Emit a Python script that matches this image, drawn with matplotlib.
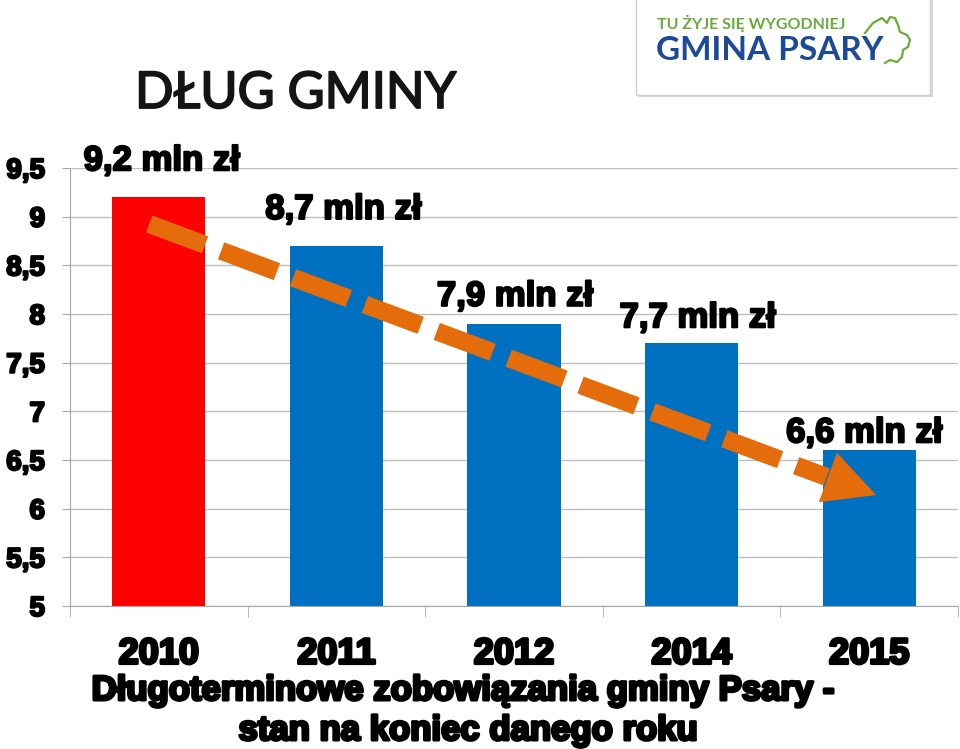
import numpy as np
import matplotlib
matplotlib.use("Agg")
import matplotlib.pyplot as plt
import matplotlib.patheffects as pe
from matplotlib.patches import Rectangle
from matplotlib.lines import Line2D

# data
years = ["2010", "2011", "2012", "2014", "2015"]
debt = [9.2, 8.7, 7.9, 7.7, 6.6]
labels = ["9,2 mln zł", "8,7 mln zł", "7,9 mln zł", "7,7 mln zł", "6,6 mln zł"]
bar_colors = ["#FF0000", "#0070C0", "#0070C0", "#0070C0", "#0070C0"]
yticks = [5, 5.5, 6, 6.5, 7, 7.5, 8, 8.5, 9, 9.5]
ytick_labels = ["5", "5,5", "6", "6,5", "7", "7,5", "8", "8,5", "9", "9,5"]

# label offsets in pixels (dx, dy of baseline above bar top)
label_dx = [3, 7, 1, 6, -5]
label_dy = [27, 27, 18, 16, 8]

# trend arrow (data coords)
trend_start = (-0.054, 8.925)
trend_base = (3.761, 6.325)
trend_tip = (4.039, 6.14)

orange = "#E46C0A"
grid_c = "#BFBFBF"
axis_c = "#A6A6A6"

plt.rcParams["font.family"] = ["Liberation Sans", "DejaVu Sans"]

W, H = 960, 749
fig = plt.figure(figsize=(W / 100, H / 100), dpi=100)


def px(x, y):
    return x / W, 1 - y / H


ax = fig.add_axes([70 / W, 1 - 606 / H, 888 / W, 438 / H])
x = np.arange(len(years))
ax.bar(x, debt, width=0.524, color=bar_colors, zorder=2)
ax.set_xlim(-0.5, 4.5)
ax.set_ylim(5, 9.5)

stroke = [pe.withStroke(linewidth=1.6, foreground="black")]
stroke_big = [pe.withStroke(linewidth=2.2, foreground="black")]

ax.set_yticks(yticks)
ax.set_yticklabels(ytick_labels, fontsize=20, fontweight="bold", path_effects=stroke)
ax.set_xticks(x)
ax.set_xticklabels(years, fontsize=26, fontweight="bold", path_effects=stroke_big)
ax.set_xticks(np.arange(-0.5, 5, 1), minor=True)
ax.tick_params(axis="x", which="major", length=0, pad=22)
ax.tick_params(axis="x", which="minor", length=8, color=axis_c, direction="out")
ax.tick_params(axis="y", length=6, color=axis_c, direction="out", pad=12)
ax.grid(axis="y", color=grid_c, lw=1, zorder=0)
ax.set_axisbelow(True)
for s in ["top", "right"]:
    ax.spines[s].set_visible(False)
for s in ["left", "bottom"]:
    ax.spines[s].set_color(axis_c)

for i, (v, lab) in enumerate(zip(debt, labels)):
    ax.annotate(lab, xy=(i, v), xytext=(label_dx[i], label_dy[i]),
                textcoords="offset pixels", ha="center", va="baseline",
                fontsize=25, fontweight="bold", path_effects=stroke, zorder=5)

# dashed trend arrow
ax.plot([trend_start[0], trend_base[0]], [trend_start[1], trend_base[1]],
        color=orange, lw=13, dashes=(3.3, 0.95), dash_capstyle="butt",
        solid_capstyle="butt", zorder=4)
ax.annotate("", xy=trend_tip, xytext=trend_base,
            arrowprops=dict(arrowstyle="-|>,head_length=37,head_width=19",
                            mutation_scale=1, color=orange, lw=0,
                            shrinkA=0, shrinkB=0), zorder=4)

# axis caption
fig.text(*px(463, 700), "Długoterminowe zobowiązania gminy Psary -",
         ha="center", va="baseline", fontsize=25, fontweight="bold", path_effects=stroke_big)
fig.text(*px(468, 740), "stan na koniec danego roku",
         ha="center", va="baseline", fontsize=25, fontweight="bold", path_effects=stroke_big)

# title
fig.text(*px(135, 108), "DŁUG GMINY", ha="left", va="baseline",
         fontsize=36.5, family=["Lato", "DejaVu Sans"], color="#141414",
         path_effects=[pe.withStroke(linewidth=1.3, foreground="#141414")])

# logo
fig.patches.append(Rectangle(px(638, 97), 295 / W, 97 / H, transform=fig.transFigure,
                             facecolor="#d9d9d9", edgecolor="none", zorder=1))
fig.patches.append(Rectangle(px(636, 95), 294 / W, 97 / H, transform=fig.transFigure,
                             facecolor="white", edgecolor="#cfcfcf", lw=1, zorder=2))
fig.text(*px(657, 29), "TU ŻYJE SIĘ WYGODNIEJ", ha="left", va="baseline",
         fontsize=11.5, fontweight="bold", family=["Lato", "DejaVu Sans"],
         color="#6AAB3C", zorder=3)
fig.text(*px(656, 60), "GMINA PSARY", ha="left", va="baseline",
         fontsize=24, fontweight="bold", family=["Lato", "DejaVu Sans"],
         color="#1D4A96", zorder=3)
sq_x = [865, 873, 882, 887, 890, 895, 898, 900, 907, 910, 908, 903, 902, 897, 890, 885]
sq_y = [33, 23, 18, 23, 17, 18, 25, 32, 35, 40, 47, 50, 57, 62, 60, 63]
fig.lines.append(Line2D([v / W for v in sq_x], [1 - v / H for v in sq_y],
                        transform=fig.transFigure, color="#6AAB3C", lw=1.6, zorder=3))

fig.savefig("out.png", dpi=100, facecolor="white")
